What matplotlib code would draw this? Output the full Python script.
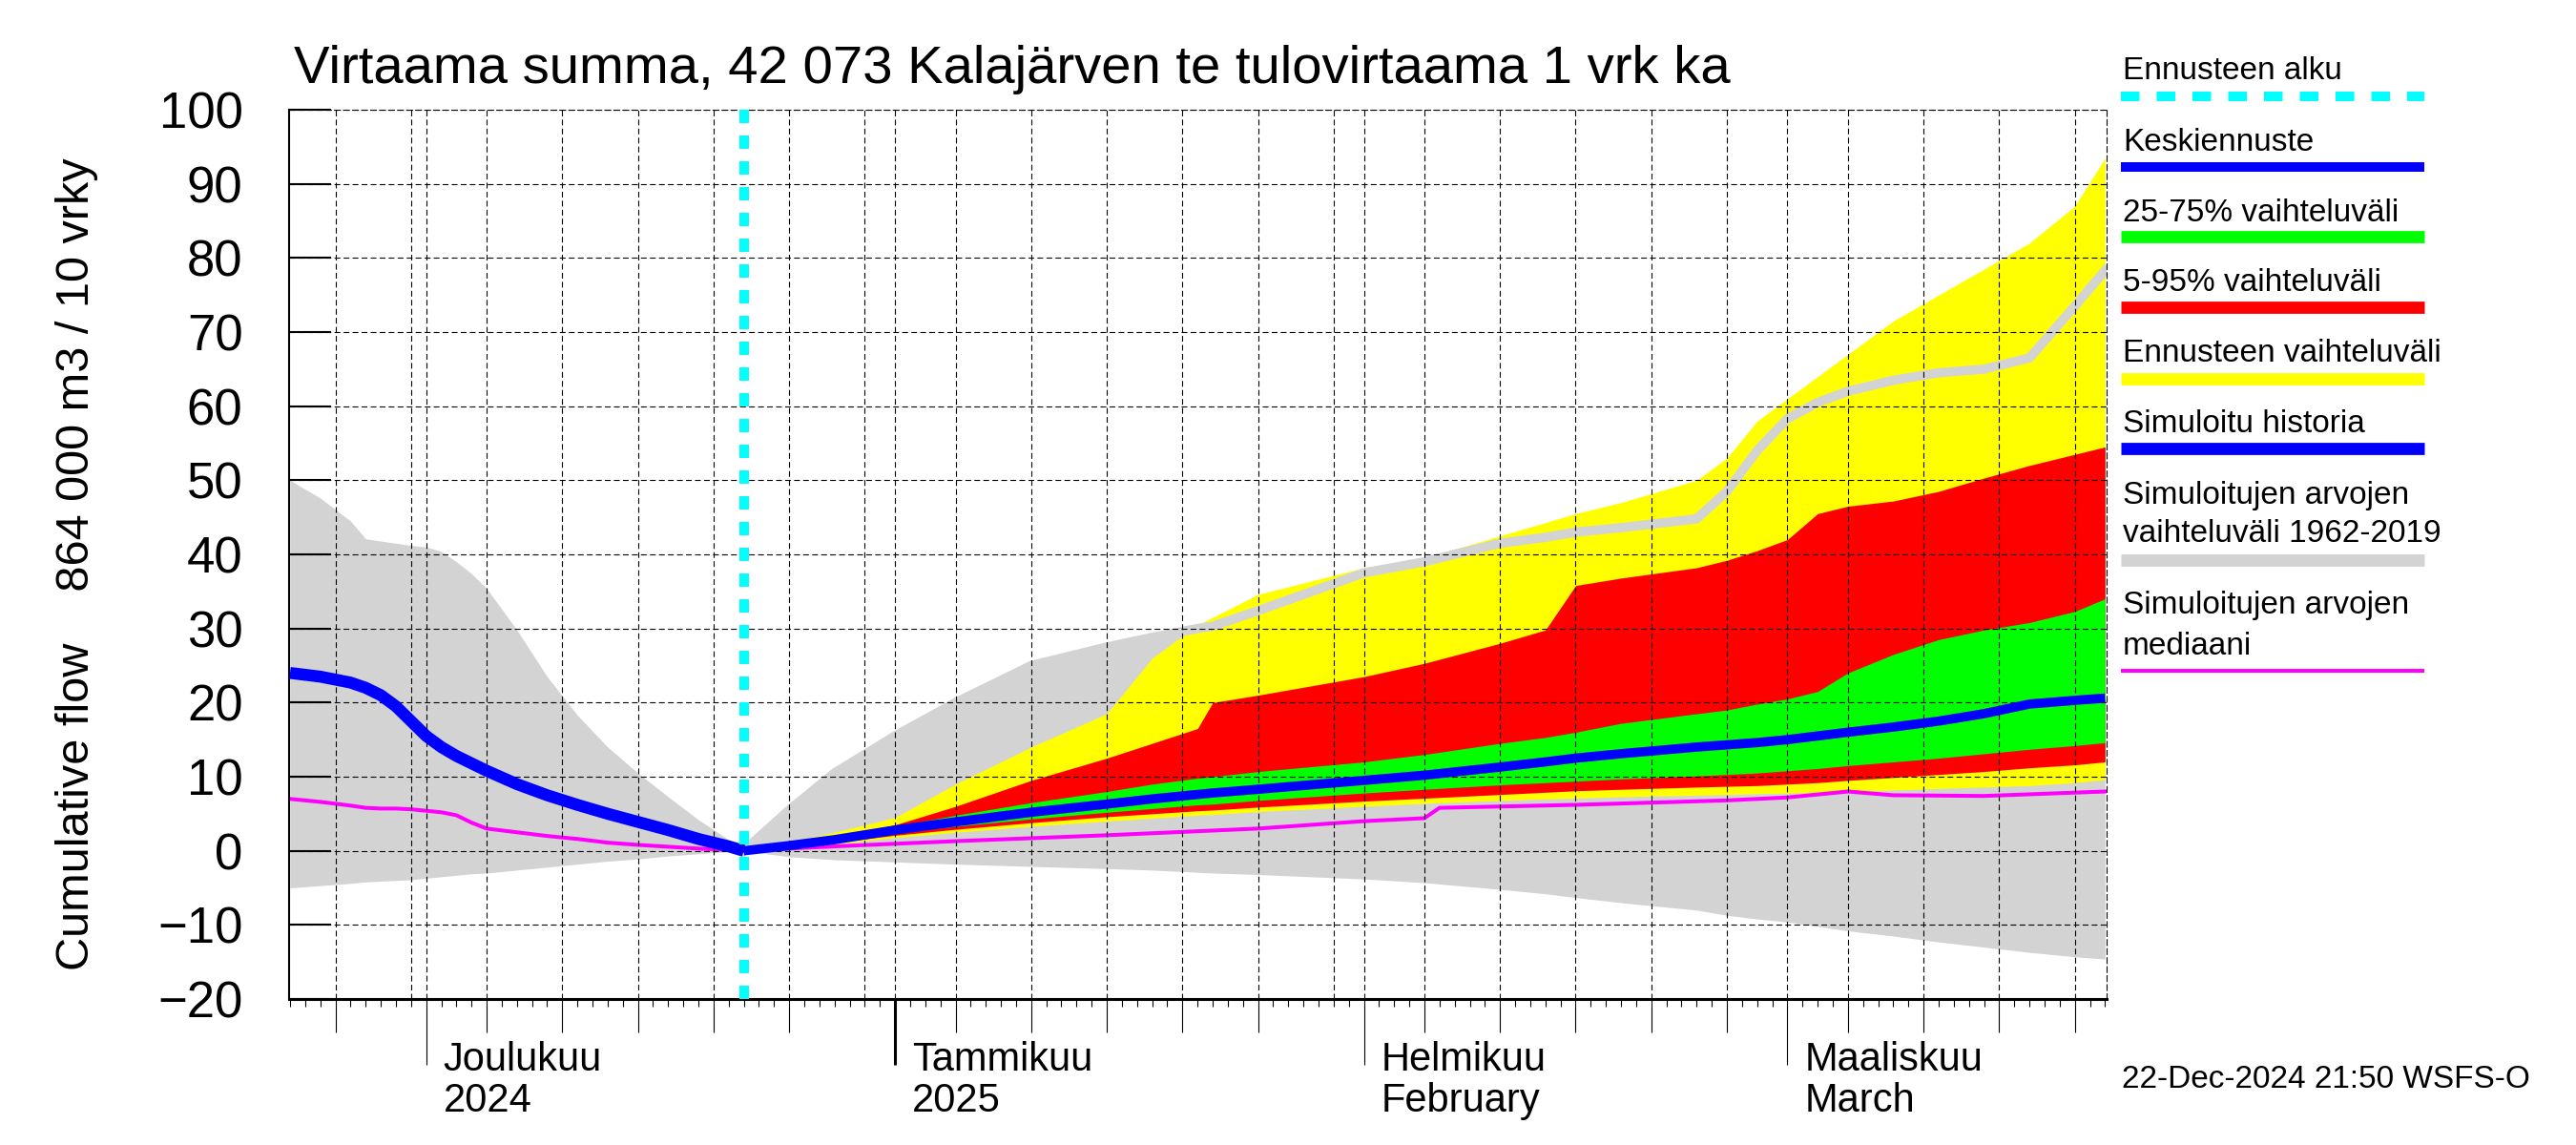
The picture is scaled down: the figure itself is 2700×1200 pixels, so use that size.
import matplotlib
matplotlib.use('Agg')
import matplotlib.pyplot as plt
import matplotlib.dates as mdates
import matplotlib.transforms as mtransforms
from matplotlib.lines import Line2D
import pandas as pd

plt.rcParams['font.family'] = ['Liberation Sans', 'DejaVu Sans']

title = 'Virtaama summa, 42 073 Kalajärven te tulovirtaama 1 vrk ka'
ylabel = 'Cumulative flow    864 000 m3 / 10 vrky'
footer = '22-Dec-2024 21:50 WSFS-O'
forecast_start = '2024-12-22'

# simulated history period
hist_dates = ['2024-11-22', '2024-11-24', '2024-11-26', '2024-11-27', '2024-11-28',
              '2024-11-29', '2024-11-30', '2024-12-01', '2024-12-02', '2024-12-03',
              '2024-12-04', '2024-12-05', '2024-12-07', '2024-12-09', '2024-12-11',
              '2024-12-13', '2024-12-15', '2024-12-17', '2024-12-19', '2024-12-21',
              '2024-12-22']
hist_max_past = [50.0, 47.6, 44.5, 42.1, 41.8, 41.5, 41.2, 41.0, 40.4, 39.0, 37.4,
                 35.4, 29.8, 23.5, 18.3, 14.0, 10.5, 7.3, 4.2, 1.5, 0]
hist_min_past = [-5.0, -4.7, -4.4, -4.2, -4.1, -4.0, -3.9, -3.7, -3.5, -3.3, -3.1,
                 -3.0, -2.6, -2.2, -1.8, -1.4, -1.1, -0.7, -0.4, -0.1, 0]
sim_history = [24.0, 23.5, 22.7, 22.0, 21.0, 19.5, 17.5, 15.5, 14.0, 12.8, 11.8,
               10.8, 9.0, 7.5, 6.2, 5.0, 3.9, 2.8, 1.6, 0.6, 0]
median_past = [7.0, 6.6, 6.1, 5.8, 5.7, 5.7, 5.6, 5.4, 5.2, 4.8, 3.8,
               3.0, 2.5, 2.0, 1.6, 1.1, 0.8, 0.55, 0.3, 0.1, 0]

# forecast period
fc_dates = ['2024-12-22', '2024-12-25', '2024-12-28', '2025-01-01', '2025-01-05',
            '2025-01-10', '2025-01-15', '2025-01-18', '2025-01-21', '2025-01-22',
            '2025-01-25', '2025-02-01', '2025-02-05', '2025-02-10', '2025-02-13',
            '2025-02-15', '2025-02-18', '2025-02-23', '2025-02-25', '2025-02-27',
            '2025-03-01', '2025-03-03', '2025-03-05', '2025-03-08', '2025-03-11',
            '2025-03-14', '2025-03-17', '2025-03-20', '2025-03-22']
hist_max_fc = [0, 5.5, 10.5, 15.5, 20.0, 25.0, 27.5, 28.8, 30.0, 30.3, 32.4, 37.5, 39.0, 41.5, 42.3,
               43.0, 43.6, 44.8, 48.5, 54.0, 58.3, 60.5, 62.0, 63.5, 64.5, 65.0, 66.5, 73.5, 78.3]
hist_min_fc = [0, -0.8, -1.2, -1.5, -1.8, -2.1, -2.4, -2.6, -2.9, -3.0, -3.2, -3.8, -4.3, -5.2, -5.8,
               -6.3, -7.0, -8.0, -8.7, -9.2, -9.6, -10.2, -10.8, -11.5, -12.3, -13.0, -13.7, -14.3, -14.6]
fc_max = [0, 1.2, 2.5, 4.5, 9.0, 14.0, 18.5, 26.0, 30.5, 31.5, 34.6, 38.2, 39.5, 42.5, 44.3,
          45.5, 47.0, 50.0, 53.0, 58.0, 61.0, 64.0, 67.0, 71.5, 75.0, 78.5, 82.0, 87.0, 93.5]
fc_p95 = [0, 0.9, 1.9, 3.5, 6.0, 9.5, 12.5, 14.5, 16.5, 20.0, 21.0, 23.5, 25.3, 28.0, 29.8,
          35.8, 36.8, 38.2, 39.2, 40.5, 42.0, 45.5, 46.5, 47.2, 48.5, 50.3, 52.0, 53.5, 54.5]
fc_p75 = [0, 0.8, 1.6, 3.3, 4.8, 6.5, 8.0, 9.0, 9.8, 10.0, 10.7, 12.0, 13.0, 14.5, 15.3,
          16.0, 17.2, 18.5, 19.0, 19.8, 20.5, 21.5, 24.0, 26.5, 28.5, 29.8, 30.8, 32.3, 34.0]
fc_median = [0, 0.7, 1.5, 2.8, 3.9, 5.2, 6.3, 7.0, 7.6, 7.8, 8.3, 9.5, 10.2, 11.3, 12.0,
             12.5, 13.1, 14.0, 14.3, 14.6, 15.0, 15.5, 16.0, 16.7, 17.5, 18.5, 19.8, 20.3, 20.6]
fc_p25 = [0, 0.6, 1.3, 2.4, 3.3, 4.3, 5.2, 5.7, 6.2, 6.3, 6.8, 7.8, 8.3, 8.9, 9.2,
          9.4, 9.7, 10.1, 10.3, 10.5, 10.8, 11.1, 11.5, 12.0, 12.5, 13.1, 13.7, 14.2, 14.6]
fc_p5 = [0, 0.5, 1.1, 2.1, 2.9, 3.8, 4.6, 5.0, 5.4, 5.5, 5.9, 6.7, 7.1, 7.6, 7.9,
         8.1, 8.3, 8.6, 8.7, 8.8, 9.0, 9.2, 9.5, 9.9, 10.3, 10.7, 11.2, 11.6, 12.0]
fc_min = [0, 0.4, 0.9, 1.8, 2.5, 3.3, 4.0, 4.4, 4.8, 4.9, 5.3, 6.0, 6.4, 6.8, 7.0,
          7.1, 7.3, 7.5, 7.6, 7.7, 7.8, 7.9, 8.0, 8.2, 8.4, 8.6, 8.8, 9.2, 9.6]

# median of simulated values during the forecast period
med_fc_dates = ['2024-12-22', '2024-12-28', '2025-01-05', '2025-01-15', '2025-01-25',
                '2025-02-01', '2025-02-05', '2025-02-06', '2025-02-15', '2025-02-25',
                '2025-03-01', '2025-03-05', '2025-03-08', '2025-03-14', '2025-03-22']
median_fc = [0, 0.6, 1.3, 2.1, 3.0, 4.0, 4.4, 5.8, 6.2, 6.8, 7.2, 8.0, 7.5, 7.4, 8.0]

month_starts = ['2024-12-01', '2025-01-01', '2025-02-01', '2025-03-01']
month_names = ['Joulukuu', 'Tammikuu', 'Helmikuu', 'Maaliskuu']
month_sub = ['2024', '2025', 'February', 'March']

legend_labels = [['Ennusteen alku'], ['Keskiennuste'], ['25-75% vaihteluväli'],
                 ['5-95% vaihteluväli'], ['Ennusteen vaihteluväli'], ['Simuloitu historia'],
                 ['Simuloitujen arvojen', 'vaihteluväli 1962-2019'],
                 ['Simuloitujen arvojen', 'mediaani']]

GRAY = '#d3d3d3'
GREEN = '#00ff00'
CYAN = '#00ffff'
grid_dash = (0, (5.4, 3.1))

hd = pd.to_datetime(hist_dates)
fd = pd.to_datetime(fc_dates)
all_dates = hd.append(fd[1:])
gray_top = hist_max_past + hist_max_fc[1:]
gray_bot = hist_min_past + hist_min_fc[1:]

fig = plt.figure(figsize=(27, 12), dpi=100)
ax = fig.add_axes([0.11222, 0.1275, 0.70556, 0.77667])

ax.fill_between(all_dates, gray_bot, gray_top, color=GRAY, lw=0, zorder=1)
ax.fill_between(fd, fc_min, fc_max, color='yellow', lw=0, zorder=1.1)
ax.fill_between(fd, fc_p5, fc_p95, color='red', lw=0, zorder=1.2)
ax.fill_between(fd, fc_p25, fc_p75, color=GREEN, lw=0, zorder=1.3)
ax.plot(fd, hist_max_fc, color=GRAY, lw=7, zorder=1.5)
ax.plot(hd, median_past, color='magenta', lw=2.9, zorder=1.6)
ax.plot(pd.to_datetime(med_fc_dates), median_fc, color='magenta', lw=2.9, zorder=1.6)
ax.plot(hd, sim_history, color='blue', lw=9, zorder=2.6, solid_capstyle='butt')
ax.plot(fd, fc_median, color='blue', lw=7, zorder=2.6, solid_capstyle='butt')
ax.axvline(pd.Timestamp(forecast_start), color=CYAN, lw=7.2, linestyle=(0, (1.4, 1.3)), zorder=3)

ax.set_xlim(pd.Timestamp('2024-11-22') - pd.Timedelta(hours=1.5),
            pd.Timestamp('2025-03-22') + pd.Timedelta(hours=2.5))
ax.set_ylim(-20, 100)
ax.set_yticks(range(-20, 101, 10))
ax.tick_params(axis='y', direction='in', length=32, width=1.5, pad=35, labelsize=38)

# x ticks: month starts (long), every 5th day (medium), daily (short)
ms = pd.to_datetime(month_starts)
grid_days = [d for d in pd.date_range('2024-11-22', '2025-03-22') if d.day in (5, 10, 15, 20, 25, 30)]
major = sorted(list(ms) + grid_days)
ax.set_xticks(mdates.date2num(major))
ax.set_xticklabels([])
ax.xaxis.set_minor_locator(mdates.DayLocator())
ax.tick_params(axis='x', which='major', direction='out', length=25, width=0.8)
ax.tick_params(axis='x', which='minor', direction='out', length=5.8, width=0.8)
for t, d in zip(ax.xaxis.get_major_ticks(), major):
    if d.day == 1:
        t.tick1line.set_markersize(50)
        if d.month == 1:
            t.tick1line.set_markeredgewidth(2.2)
    elif d.day == 30:
        t.tick1line.set_markersize(5.8)

ax.set_axisbelow(False)
ax.grid(True, which='major', color='black', lw=0.8, linestyle=grid_dash)
ax.spines['left'].set_linewidth(1.5)
ax.spines['bottom'].set_linewidth(2.2)
for s in ('top', 'right'):
    ax.spines[s].set_linewidth(0.8)
    ax.spines[s].set_linestyle(grid_dash)

trans = mtransforms.blended_transform_factory(ax.transData, fig.transFigure) + \
    mtransforms.ScaledTranslation(0.18, 0, fig.dpi_scale_trans)
for d, l1, l2 in zip(ms, month_names, month_sub):
    x = mdates.date2num(d)
    ax.text(x, 0.065, l1, transform=trans, fontsize=30, va='baseline', ha='left')
    ax.text(x, 0.029, l2, transform=trans, fontsize=30, va='baseline', ha='left')

fig.text(0.1141, 0.9275, title, fontsize=40.5, va='baseline', ha='left')
fig.text(0.030, 0.507, ylabel, fontsize=35, rotation=90, va='center', ha='center')
fig.text(0.8237, 0.05, footer, fontsize=24, va='baseline', ha='left')

# legend on the right, drawn by hand
W, H = 2700.0, 1200.0
text_base = [[83], [158], [232], [305], [379], [453], [528, 568], [643, 686]]
line_y = [101, 175, 248, 322, 397, 470, 587, 703]
styles = [dict(color=CYAN, lw=7.2, linestyle=(0, (1.95, 1.8))),
          dict(color='blue', lw=7.2),
          dict(color=GREEN, lw=9.2),
          dict(color='red', lw=9.2),
          dict(color='yellow', lw=9.2),
          dict(color='blue', lw=9.2),
          dict(color=GRAY, lw=9.2),
          dict(color='magenta', lw=2.9)]
for labels, bases, ly, st in zip(legend_labels, text_base, line_y, styles):
    for lab, b in zip(labels, bases):
        fig.text(2225 / W, 1 - b / H, lab, fontsize=24, va='baseline', ha='left')
    fig.add_artist(Line2D([2223 / W, 2541 / W], [1 - ly / H, 1 - ly / H],
                          transform=fig.transFigure, solid_capstyle='butt', **st))

fig.savefig('out.png', dpi=100)
